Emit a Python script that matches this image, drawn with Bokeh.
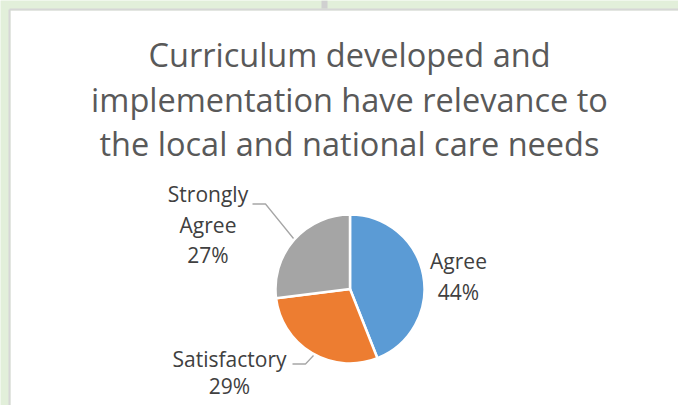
import numpy as np
from bokeh.plotting import figure
from bokeh.models import Range1d, ColumnDataSource
from bokeh.core.properties import value
from bokeh.embed import file_html
from bokeh.resources import INLINE

# ---- data ----
categories = ["Agree", "Satisfactory", "Strongly Agree"]
percents = [44, 29, 27]
colors = ["#5B9BD5", "#ED7D31", "#A5A5A5"]
title_lines = ["Curriculum developed and",
               "implementation have relevance to",
               "the local and national care needs"]

# ---- layout (screen pixel coordinates) ----
W, H = 678, 405


def sx(x):
    return x


def sy(y):
    return H - y


CX, CY, R = 349.5, 288.5, 74.5
FONT = "Open Sans"

p = figure(width=W, height=H, output_backend="svg", toolbar_location=None,
           x_range=Range1d(0, W), y_range=Range1d(0, H),
           min_border=0, background_fill_color="#E2EFDA",
           border_fill_color="#E2EFDA", outline_line_color=None)
p.axis.visible = False
p.grid.visible = False

# surrounding sheet: white panel, its border, divider above
p.quad(left=[sx(10)], right=[sx(W)], top=[sy(10)], bottom=[sy(H)],
       fill_color="white", line_color=None)
p.segment(x0=[sx(9), sx(9)], y0=[sy(9), sy(9)],
          x1=[sx(9), sx(W)], y1=[sy(H), sy(9)],
          line_color="#D6D6D6", line_width=2)
p.quad(left=[sx(321)], right=[sx(327)], top=[sy(0)], bottom=[sy(8)],
       fill_color="#D0D0D0", line_color=None)

# ---- pie ----
frac = np.array(percents, dtype=float) / sum(percents)
cum = np.concatenate([[0], np.cumsum(frac)])
start = np.pi / 2 - 2 * np.pi * cum[:-1]
end = np.pi / 2 - 2 * np.pi * cum[1:]
src = ColumnDataSource(dict(x=[sx(CX)] * 3, y=[sy(CY)] * 3, start=start,
                            end=end, color=colors, cat=categories))
p.wedge(x="x", y="y", radius=R, start_angle="start", end_angle="end",
        direction="clock", fill_color="color", line_color="white",
        line_width=2.5, source=src)

# ---- title ----
title_mid = [53.5, 98.5, 142.5]
p.text(x=[sx(349)] * 3, y=[sy(b) for b in title_mid], text=title_lines,
       text_align="center", text_baseline="middle",
       text_font=value(FONT), text_font_size="32.5px", text_color="#595959")

# ---- data labels ----
label_layout = {
    "Agree": (458, [260, 291]),
    "Satisfactory": (229, [358, 385]),
    "Strongly Agree": (207.5, [193, 224, 254]),
}
lx, ly, lt = [], [], []
for c, pct in zip(categories, percents):
    x0, mids = label_layout[c]
    words = c.split(" ") + [f"{pct}%"]
    if len(mids) == 2:
        words = [c, f"{pct}%"]
    for w, b in zip(words, mids):
        lx.append(sx(x0)); ly.append(sy(b)); lt.append(w)
p.text(x=lx, y=ly, text=lt, text_align="center", text_baseline="middle",
       text_font=value(FONT), text_font_size="21px", text_color="#404040")

# ---- leader lines ----
leaders = [
    [(252, 203.5), (265, 203.5), (293, 238)],
    [(292, 363.5), (305, 363.5), (313, 355)],
]
p.multi_line(xs=[[sx(a) for a, _ in L] for L in leaders],
             ys=[[sy(b) for _, b in L] for L in leaders],
             line_color="#A6A6A6", line_width=1.3)

open("out.html", "w").write(file_html(p, INLINE))
